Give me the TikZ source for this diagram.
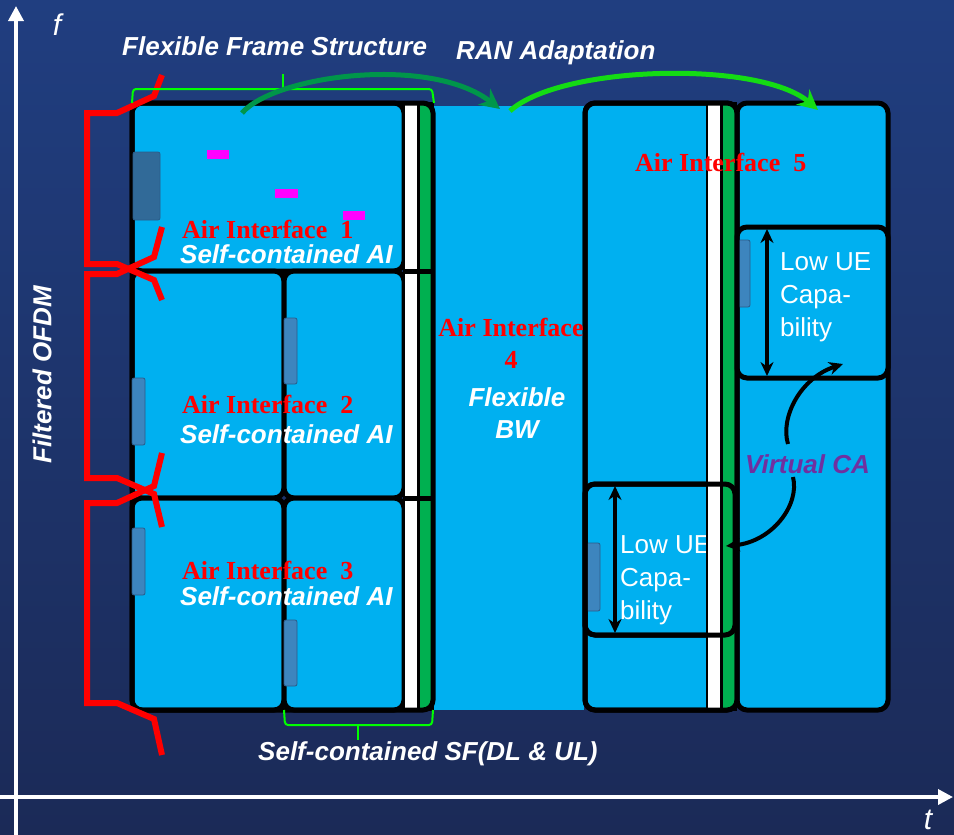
\documentclass[tikz,border=0pt]{standalone}
\usepackage{fontspec}
\setmainfont{Liberation Serif}
\setsansfont{Liberation Sans}
\usepackage{xcolor}
\definecolor{aicyan}{HTML}{00B0F0}
\definecolor{aigreen}{HTML}{00B050}
\definecolor{aibrace}{HTML}{00FF00}
\definecolor{aitab}{HTML}{3D85BE}
\definecolor{aitabline}{HTML}{2A5C8A}
\definecolor{aimag}{HTML}{FF00FF}
\definecolor{aiviolet}{HTML}{7030A0}
\definecolor{bgtop}{HTML}{203E80}
\definecolor{bgbot}{HTML}{1B2A57}
\definecolor{ranA}{HTML}{00964A}
\definecolor{ranB}{HTML}{14DC14}
\usepackage{tikz}
\usetikzlibrary{arrows.meta,calc}

\begin{document}
\begin{tikzpicture}[x=1pt,y=-1pt,
  cell/.style={draw=black,line width=5pt,fill=aicyan,rounded corners=10pt},
  rim/.style={draw=black,line width=5pt,rounded corners=10pt},
  stripe/.style={draw=black,line width=2.5pt},
  tab/.style={draw=aitabline,fill=aitab,line width=0.8pt,rounded corners=2pt},
  brk/.style={red,line width=6pt},
  brc/.style={aibrace,line width=2pt,rounded corners=3pt},
  axis/.style={white,line width=3.5pt,-{Triangle[length=15pt,width=15pt]}},
  ran/.style={-{Stealth[length=20pt,width=20pt]},line width=5pt},
  dbl/.style={{Stealth[length=14pt,width=13pt]}-{Stealth[length=14pt,width=13pt]},line width=3.5pt},
  ca/.style={-{Stealth[length=14pt,width=13pt]},line width=4pt},
  ailbl/.style={text=red,font=\bfseries\fontsize{26}{32}\selectfont,inner sep=0pt},
  wlbl/.style={text=white,font=\sffamily\bfseries\itshape\fontsize{26}{32}\selectfont,inner sep=0pt},
  uelbl/.style={text=white,font=\sffamily\fontsize{26}{33}\selectfont,align=left,inner sep=0pt}]
\shade[top color=bgtop,bottom color=bgbot] (0,0) rectangle (954,835);
\useasboundingbox (0,0) rectangle (954,835);

% axes
\coordinate (fbot) at (16,835);
\coordinate (ftop) at (16,6);
\coordinate (tleft) at (0,797);
\coordinate (tright) at (953,797);
\draw[axis] (fbot) -- (ftop);
\draw[axis] (tleft) -- (tright);
\node[text=white,font=\sffamily\itshape\fontsize{30}{30}\selectfont] (flab) at (57,25) {f};
\node[text=white,font=\sffamily\itshape\fontsize{30}{30}\selectfont] (tlab) at (928,820) {t};
\node[wlbl,rotate=90] (ofdm) at (42,375) {Filtered OFDM};

% flexible bandwidth block
\fill[aicyan] (433,106) rectangle (584,710);

% frame structure block
\draw[cell] (132,103) rectangle (404,271);
\draw[cell] (132,271) rectangle (284,498);
\draw[cell] (284,271) rectangle (404,498);
\draw[cell] (132,498) rectangle (284,710);
\draw[cell] (284,498) rectangle (404,710);
\draw[stripe,fill=white] (404,103) rectangle (418,710);
\draw[stripe,fill=aigreen] (419,103) rectangle (433,710);
\draw[line width=5pt] (404,271) -- (433,271);
\draw[line width=5pt] (404,498) -- (433,498);
\draw[rim] (132,103) rectangle (433,710);
\draw[tab,fill=aitab!80!black] (133,152) rectangle (160,220);
\draw[tab] (132,378) rectangle (145,445);
\draw[tab] (132,528) rectangle (145,595);
\draw[tab] (284,318) rectangle (297,384);
\draw[tab] (284,620) rectangle (297,686);
\fill[aimag] (207,150) rectangle (229,159);
\fill[aimag] (275,189) rectangle (298,198);
\fill[aimag] (343,211) rectangle (365,220);

% filters
\foreach \a/\b/\c/\d in {113/264/38/36, 274/478/47/49, 503/703/50/52}
  \draw[brk] (162,\a-\c) -- (154,\a-17) -- (117,\a) -- (87,\a) -- (87,\b)
    -- (117,\b) -- (154,\b+16) -- (162,\b+\d);

% braces
\draw[brc] (132,103) -- (133,89) -- (432,89) -- (434,103);
\draw[brc] (283,89) -- (283,74);
\draw[brc] (284,710) -- (285,725) -- (432,725) -- (433,710);
\draw[brc] (358,725) -- (358,740);

% air interface 5
\draw[cell] (585,103) rectangle (737,710);
\draw[cell] (585,484) rectangle (735,635);
\draw[tab] (585,543) rectangle (600,611);
\draw[dbl] (615,486) -- (615,633);
\node[uelbl,anchor=west] (ueB) at (620,580) {Low UE\\Capa-\\bility};
\draw[stripe,fill=white] (707,103) rectangle (721,710);
\draw[stripe,fill=aigreen] (722,103) rectangle (736,710);
\draw[rim] (585,484) rectangle (735,635);
\draw[cell] (737,103) rectangle (888,710);
\draw[cell] (737,227) rectangle (888,378);
\draw[tab] (737,240) rectangle (750,307);
\draw[dbl] (767,229) -- (767,376);
\node[uelbl,anchor=west] (ueA) at (780,297) {Low UE\\Capa-\\bility};
\draw[rim] (585,103) rectangle (737,710);

% labels
\node[ailbl,anchor=base west] (ai1) at (182,238) {Air Interface\ \ 1};
\node[wlbl,anchor=base west] (sc1) at (180,263) {Self-contained\ AI};
\node[ailbl,anchor=base west] (ai2) at (182,413) {Air Interface\ \ 2};
\node[wlbl,anchor=base west] (sc2) at (180,443) {Self-contained\ AI};
\node[ailbl,anchor=base west] (ai3) at (182,579) {Air Interface\ \ 3};
\node[wlbl,anchor=base west] (sc3) at (180,605) {Self-contained\ AI};
\node[ailbl,align=center] (ai4) at (511,343) {Air Interface\\4};
\node[wlbl,align=center] (fbw) at (517,413) {Flexible\\BW};
\node[ailbl,anchor=base west] (ai5) at (635,171) {Air Interface\ \ 5};
\node[wlbl,anchor=base west] (ffs) at (122,55) {Flexible\ Frame\ Structure};
\node[wlbl,anchor=base west] (rana) at (456,59) {RAN\ Adaptation};
\node[wlbl,anchor=base west] (scsf) at (258,760) {Self-contained\ SF(DL \& UL)};
\node[wlbl,text=aiviolet,anchor=base west] (vca) at (745,473) {Virtual\ CA};

% adaptation arrows
\coordinate (ran1a) at (242,113);
\coordinate (ran1b) at (500,109);
\coordinate (ran2a) at (510,111);
\coordinate (ran2b) at (818,110);
\draw[ran,ranA] (ran1a) .. controls (275,75) and (430,55) .. (ran1b);
\draw[ran,ranB] (ran2a) .. controls (560,65) and (760,60) .. (ran2b);

% virtual carrier aggregation
\coordinate (cau) at (788,444);
\coordinate (cal) at (793,477);
\coordinate (ueAin) at (843,364);
\coordinate (ueBin) at (726,546);
\draw[ca] (cau) .. controls (780,418) and (800,378) .. (ueAin);
\draw[ca] (cal) .. controls (800,505) and (772,542) .. (ueBin);
\end{tikzpicture}
\end{document}
